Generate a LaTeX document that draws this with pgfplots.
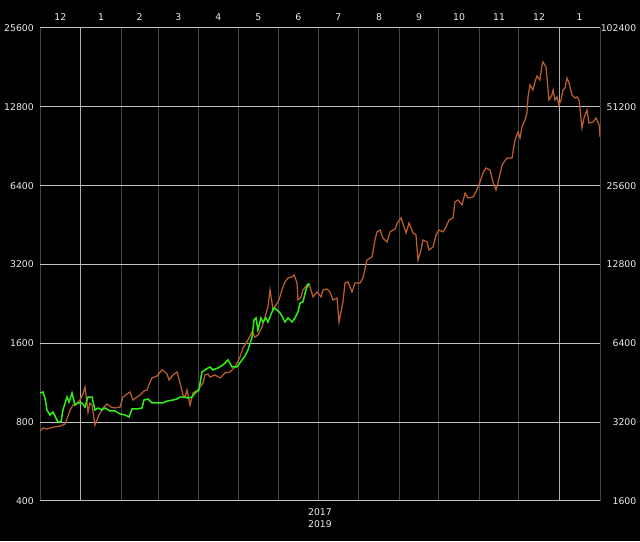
\documentclass[border=0pt]{standalone}
\usepackage{pgfplots}
\pgfplotsset{compat=1.18}
\usepackage{fontspec}
\setmainfont{DejaVu Sans}

\definecolor{txt}{RGB}{235,235,235}
\definecolor{hgrid}{RGB}{195,195,195}
\definecolor{mgrid}{RGB}{68,68,68}
\definecolor{ygrid}{RGB}{175,175,175}
\definecolor{orangeline}{RGB}{188,94,44}
\definecolor{greenline}{RGB}{45,240,20}

\pgfplotsset{
  base/.style={
    at={(40pt,40pt)}, anchor=south west,
    scale only axis, width=560pt, height=473pt,
    xmin=0, xmax=427,
    axis line style={draw=none},
    major tick length=0pt,
    tick style={draw=none},
    ticklabel style={font=\fontsize{9.3}{11}\selectfont, color=txt, inner sep=0pt},
    /pgf/number format/assume math mode=true,
  },
}

\begin{document}
\begin{tikzpicture}
\fill[black] (0,0) rectangle (640pt,541pt);

% month boundaries
\begin{axis}[base,
  ymin=0, ymax=1, ytick=\empty,
  xtick={0,62,90,121,151,182,212,243,274,304,335,365,427},
  xticklabels={},
  xmajorgrids, major grid style={mgrid, line width=1pt},
  extra x ticks={31,396}, extra x tick labels={},
  extra x tick style={major grid style={ygrid, line width=1.4pt}},
]
\end{axis}

% left scale, 2017
\begin{axis}[base,
  ymode=log, log basis y=2,
  ymin=400, ymax=25600,
  ytick={400,800,1600,3200,6400,12800,25600},
  yticklabels={400,800,1600,3200,6400,12800,25600},
  yticklabel style={anchor=east, xshift=-6pt},
  ymajorgrids, major grid style={hgrid, line width=1pt},
  xtick=\empty,
  xlabel={2017\\2019},
  xlabel style={at={(axis description cs:0.5,0)}, anchor=north, yshift=-7pt,
    inner sep=0pt, align=center, color=txt, font=\fontsize{9.3}{12}\selectfont},
]
\addplot[orangeline, line width=1.25pt] coordinates {
(0,740)(2.3,760)(5.3,753)(7.6,760)(11.4,767)(15.3,773)(19.1,787)(21.4,844)(22.9,890)
(25.2,930)(28.2,947)(30.5,972)(32.8,1025)(34.3,1090)(36.6,875)(38.1,947)(39.7,930)
(41.9,780)(45.0,852)(48.0,906)(51.1,939)(54.1,914)(57.2,906)(61.0,914)(63.3,998)
(66.3,1025)(68.6,1043)(70.9,972)(74.0,998)(76.3,1016)(79.3,1052)(81.6,1062)(83.9,1139)
(85.4,1180)(89.2,1201)(93.0,1266)(95.3,1244)(96.8,1222)(98.4,1159)(101.4,1211)
(104.5,1244)(106.8,1129)(109.0,1016)(110.6,998)(112.1,1062)(114.4,930)(116.7,1034)
(120.5,1062)(122.0,1090)(124.3,1129)(125.8,1211)(128.1,1222)(129.6,1190)(133.4,1211)
(137.3,1180)(141.1,1233)(144.9,1244)(148.7,1300)(152.5,1419)(154.8,1536)(158.6,1648)
(161.7,1768)(163.9,1692)(166.2,1722)(169.3,1848)(171.6,2017)(173.8,2203)(175.4,2558)
(177.7,2146)(180.0,2241)(182.2,2342)(184.5,2558)(186.8,2744)(189.1,2842)(192.2,2868)
(193.7,2918)(196.0,2720)(196.7,2342)(199.0,2405)(200.5,2558)(203.6,2672)(205.9,2626)
(208.2,2405)(211.2,2513)(214.3,2405)(215.8,2558)(218.8,2580)(221.1,2513)(223.4,2342)
(226.5,2384)(228.0,1930)(231.0,2302)(232.6,2720)(234.9,2744)(237.9,2513)(240.2,2720)
(244.0,2720)(246.3,2842)(249.3,3329)(253.2,3418)(255.4,3970)(257.0,4261)(259.3,4336)
(261.5,4040)(264.6,3902)(266.9,4261)(270.7,4375)(273.0,4651)(275.3,4817)(277.6,4451)
(279.1,4224)(281.4,4610)(284.4,4224)(286.7,4148)(288.2,3329)(290.5,3636)(292.0,3970)
(295.1,3902)(296.6,3636)(299.7,3733)(302.0,4148)(304.2,4336)(307.3,4261)(309.6,4451)
(311.9,4734)(314.9,4817)(316.4,5545)(318.7,5643)(321.8,5401)(324.1,6000)(326.3,5745)
(330.2,5796)(332.4,6055)(334.7,6440)(337.8,7156)(340.1,7477)(343.1,7348)(345.4,6612)
(347.7,6160)(349.2,6552)(352.3,7677)(356.1,8164)(359.9,8164)(362.2,9568)(364.5,10262)
(366.0,9734)(367.5,10725)(369.8,11405)(371.3,12128)(372.1,13964)(373.6,15512)
(375.9,14848)(377.4,15928)(379.0,16796)(381.2,16213)(382.8,18498)(383.5,18995)
(385.8,18181)(386.6,16501)(388.1,13593)(390.4,14218)(391.2,14848)(392.7,13593)
(394.2,13964)(395.7,13013)(397.3,13593)(398.8,14848)(400.3,15104)(401.8,16501)
(403.4,15784)(405.6,14218)(407.9,13837)(409.5,13964)(411.0,13593)(413.3,10632)
(414.8,11608)(417.1,12453)(418.6,11107)(421.7,11206)(424.0,11608)(426.3,10915)(427.0,9823)
};
\end{axis}

% right scale, 2019, and month names
\begin{axis}[base,
  ymode=log, log basis y=2,
  ymin=1600, ymax=102400,
  ytick={1600,3200,6400,12800,25600,51200,102400},
  yticklabels={1600,3200,6400,12800,25600,51200,102400},
  yticklabel pos=right,
  yticklabel style={anchor=east, xshift=36.5pt},
  xticklabel pos=upper,
  xtick={15.5,46.5,76,105.5,136,166.5,197,227.5,258.5,289,319.5,350,380.5,411.5},
  xticklabels={12,1,2,3,4,5,6,7,8,9,10,11,12,1},
  xticklabel style={anchor=south, yshift=7pt},
]
\addplot[greenline, line width=1.5pt] coordinates {
(0,4136)(2.3,4172)(3.8,3959)(5.3,3562)(7.6,3408)(9.9,3500)(11.4,3376)(13.7,3205)
(16.0,3205)(17.5,3562)(20.6,3992)(22.1,3822)(24.4,4136)(26.7,3721)(29.0,3788)(32.0,3788)
(34.3,3655)(36.6,3992)(39.7,3992)(41.9,3562)(44.2,3624)(47.3,3562)(49.6,3624)(53.4,3531)
(57.2,3531)(61.0,3439)(64.8,3408)(67.9,3349)(70.2,3593)(74.0,3593)(77.8,3624)(79.3,3889)
(82.4,3923)(85.4,3788)(89.2,3788)(93.0,3788)(95.3,3822)(97.6,3856)(101.4,3889)
(104.5,3923)(106.8,3992)(109.0,3992)(112.9,3959)(115.9,3992)(118.2,4136)(121.2,4247)
(123.5,4976)(125.8,5064)(128.1,5153)(129.6,5198)(131.9,5064)(135.7,5153)(139.5,5290)
(143.4,5530)(146.4,5198)(150.2,5198)(154.0,5530)(156.3,5726)(158.6,6038)(161.7,6769)
(163.2,7857)(164.7,8000)(166.2,7195)(168.5,8000)(170.0,7721)(172.3,8000)(173.8,7721)
(176.9,8433)(178.4,8734)(180.7,8582)(183.0,8360)(185.3,8000)(186.8,7721)(189.1,8000)
(192.2,7721)(194.4,8000)(196.7,8433)(198.3,9126)(200.5,9210)(202.8,10233)(204.4,10786)
(205.9,10690)
};
\end{axis}

\pgfresetboundingbox
\path[use as bounding box] (0,0) rectangle (640pt,541pt);
\end{tikzpicture}
\end{document}
